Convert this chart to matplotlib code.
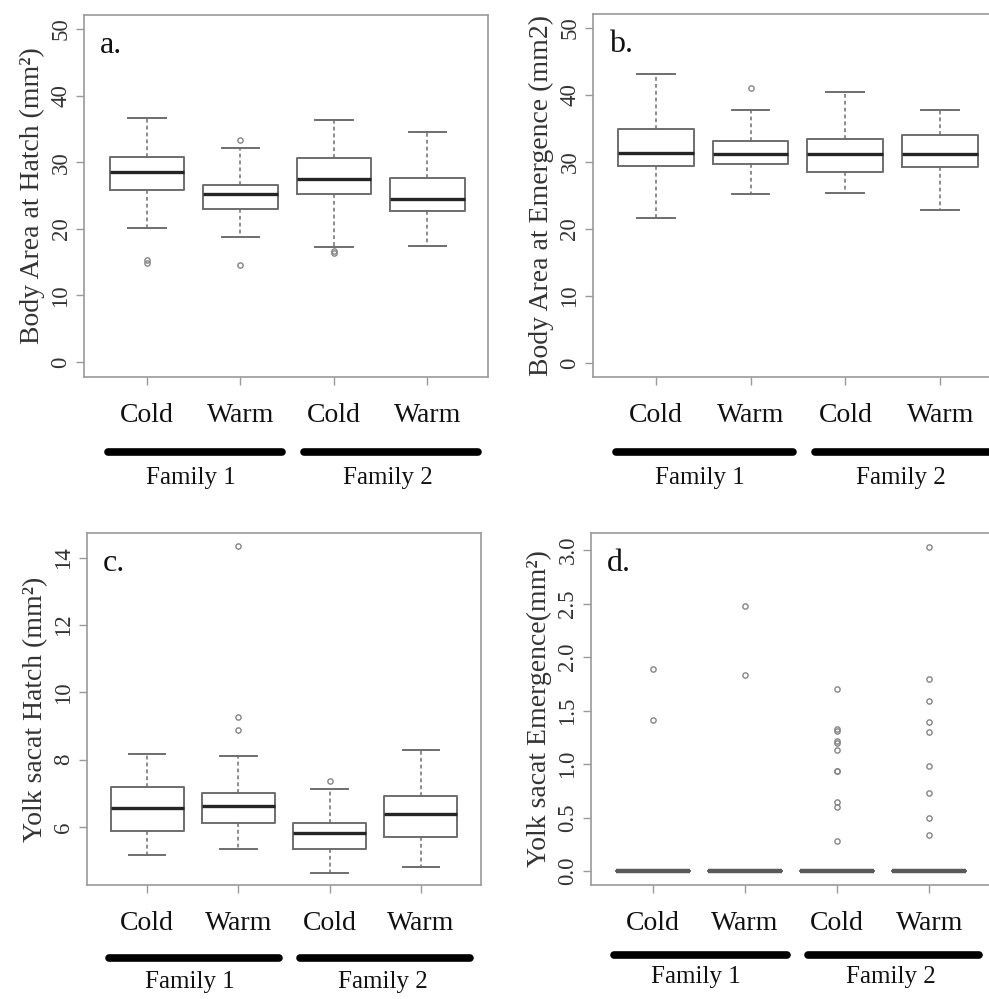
import matplotlib
matplotlib.use("Agg")
import matplotlib.pyplot as plt
import matplotlib.transforms as mtrans

plt.rcParams['font.family'] = ['Liberation Serif', 'DejaVu Serif']

grupos = ["Cold", "Warm", "Cold", "Warm"]
familias = ["Family 1", "Family 2"]

# painel a - area corporal na eclosao
a_whislo = [20.1, 18.7, 17.2, 17.4]
a_q1 = [25.8, 22.9, 25.2, 22.6]
a_med = [28.6, 25.3, 27.5, 24.5]
a_q3 = [30.8, 26.6, 30.7, 27.6]
a_whishi = [36.7, 32.2, 36.4, 34.6]
a_fliers = [[15.3, 14.9], [33.4, 14.5], [16.6, 16.4], []]

# painel b - area corporal na emergencia
b_whislo = [21.6, 25.2, 25.4, 22.8]
b_q1 = [29.4, 29.7, 28.5, 29.2]
b_med = [31.4, 31.2, 31.2, 31.2]
b_q3 = [34.9, 33.2, 33.4, 34.1]
b_whishi = [43.1, 37.7, 40.4, 37.8]
b_fliers = [[], [41.0], [], []]

# painel c - saco vitelino na eclosao
c_whislo = [5.16, 5.34, 4.63, 4.81]
c_q1 = [5.88, 6.12, 5.34, 5.70]
c_med = [6.55, 6.62, 5.82, 6.37]
c_q3 = [7.19, 7.01, 6.10, 6.91]
c_whishi = [8.16, 8.11, 7.14, 8.29]
c_fliers = [[], [14.35, 9.27, 8.88], [7.37], []]

# painel d - saco vitelino na emergencia (quase tudo zero)
d_whislo = [0, 0, 0, 0]
d_q1 = [0, 0, 0, 0]
d_med = [0, 0, 0, 0]
d_q3 = [0, 0, 0, 0]
d_whishi = [0, 0, 0, 0]
d_fliers = [[1.89, 1.41],
            [2.48, 1.83],
            [1.70, 1.33, 1.31, 1.22, 1.20, 1.13, 0.94, 0.94, 0.65, 0.60, 0.28],
            [3.03, 1.80, 1.59, 1.39, 1.30, 0.98, 0.73, 0.50, 0.34]]

W, H = 989, 999
fig = plt.figure(figsize=(W / 100, H / 100), dpi=100)

CINZA = '#6e6e6e'


def montar_stats(lo, q1, med, q3, hi, fl):
    stats = []
    for i in range(len(med)):
        stats.append(dict(whislo=lo[i], q1=q1[i], med=med[i], q3=q3[i],
                          whishi=hi[i], fliers=fl[i]))
    return stats


def painel(px, letra, ylabel, stats, ylim, xlim, yticks, fmt,
           cold_off, linha_off, fam_off, med_cor='#252525', med_lw=2.4):
    # px = (esquerda, topo, direita, baixo) em pixels
    l, t, r, b = px
    ax = fig.add_axes([l / W, 1 - b / H, (r - l) / W, (b - t) / H])
    ax.bxp(stats, positions=[1, 2, 3, 4], widths=0.8, showfliers=True,
           boxprops=dict(color=CINZA, lw=1.4),
           medianprops=dict(color=med_cor, lw=med_lw),
           whiskerprops=dict(color=CINZA, lw=1.1, linestyle=(0, (2.5, 2))),
           capprops=dict(color=CINZA, lw=1.4),
           flierprops=dict(marker='o', mfc='none', mec='#858585', ms=3.8, mew=1.0))
    ax.set_xlim(xlim)
    ax.set_ylim(ylim)
    ax.set_yticks(yticks)
    ax.set_yticklabels([fmt % v for v in yticks], rotation=90, va='center',
                       fontsize=16.5, color='#333333')
    ax.tick_params(axis='y', length=6, width=1, color='#999999', pad=3)
    ax.set_xticks([1, 2, 3, 4])
    ax.set_xticklabels([])
    ax.tick_params(axis='x', length=6, width=1, color='#999999')
    for s in ax.spines.values():
        s.set_color('#9a9a9a')
        s.set_linewidth(1.2)
    ax.set_ylabel(ylabel, fontsize=20, color='#333333', labelpad=4)
    ax.text(0.04, 0.955, letra, transform=ax.transAxes, fontsize=23,
            va='top', ha='left', color='#111111')

    axh = b - t
    trans = mtrans.blended_transform_factory(ax.transData, ax.transAxes)
    for i, g in enumerate(grupos):
        ax.text(i + 1, -cold_off / axh, g, transform=trans, ha='center',
                va='center', fontsize=20, color='#111111', clip_on=False)
    ax.plot([0.58, 2.45], [-linha_off / axh] * 2, transform=trans, color='black',
            lw=5.5, solid_capstyle='round', clip_on=False)
    ax.plot([2.68, 4.54], [-linha_off / axh] * 2, transform=trans, color='black',
            lw=5.5, solid_capstyle='round', clip_on=False)
    ax.text(1.47, -fam_off / axh, familias[0], transform=trans, ha='center',
            va='center', fontsize=18, color='#111111', clip_on=False)
    ax.text(3.58, -fam_off / axh, familias[1], transform=trans, ha='center',
            va='center', fontsize=18, color='#111111', clip_on=False)
    return ax


painel((84, 15, 488, 377), "a.", "Body Area at Hatch (mm²)",
       montar_stats(a_whislo, a_q1, a_med, a_q3, a_whishi, a_fliers),
       (-2.25, 52.1), (0.325, 4.65), [0, 10, 20, 30, 40, 50], "%d",
       38, 75, 101)

painel((593, 14, 1001, 377), "b.", "Body Area at Emergence (mm2)",
       montar_stats(b_whislo, b_q1, b_med, b_q3, b_whishi, b_fliers),
       (-2.1, 52.1), (0.34, 4.64), [0, 10, 20, 30, 40, 50], "%d",
       38, 75, 101)

painel((87, 533, 481, 885), "c.", "Yolk sacat Hatch (mm²)",
       montar_stats(c_whislo, c_q1, c_med, c_q3, c_whishi, c_fliers),
       (4.27, 14.74), (0.34, 4.66), [6, 8, 10, 12, 14], "%d",
       39, 73, 97)

painel((591, 533, 990, 885), "d.", "Yolk sacat Emergence(mm²)",
       montar_stats(d_whislo, d_q1, d_med, d_q3, d_whishi, d_fliers),
       (-0.13, 3.16), (0.326, 4.66), [0, 0.5, 1.0, 1.5, 2.0, 2.5, 3.0], "%.1f",
       39, 70, 92, med_cor='#5a5a5a', med_lw=3.2)

fig.savefig("out.png", dpi=100)
